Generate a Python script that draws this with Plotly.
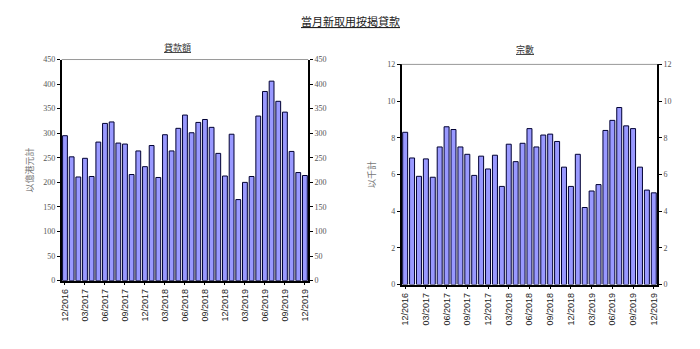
import plotly.graph_objects as go

months = ["12/2016","01/2017","02/2017","03/2017","04/2017","05/2017","06/2017","07/2017","08/2017","09/2017",
          "10/2017","11/2017","12/2017","01/2018","02/2018","03/2018","04/2018","05/2018","06/2018","07/2018",
          "08/2018","09/2018","10/2018","11/2018","12/2018","01/2019","02/2019","03/2019","04/2019","05/2019",
          "06/2019","07/2019","08/2019","09/2019","10/2019","11/2019","12/2019"]
amount = [295,252,211,249,212,282,320,323,280,278,216,264,232,275,210,297,264,310,337,301,
          322,328,312,259,213,298,165,200,212,335,385,406,365,343,263,220,214]
count = [8.3,6.9,5.9,6.85,5.85,7.5,8.6,8.45,7.5,7.1,5.95,7.0,6.3,7.05,5.35,7.65,6.7,7.7,8.5,7.5,
         8.15,8.2,7.8,6.4,5.35,7.1,4.2,5.1,5.45,8.4,8.95,9.65,8.65,8.5,6.4,5.15,5.0]
tick_labels = months[::3]

main_title = "當月新取用按揭貸款"
left_title = "貸款額"
right_title = "宗數"
left_ytitle = "以億港元計"
right_ytitle = "以千計"

fill = "#9999FF"
edge = "#000033"
cjk = "Noto Sans CJK TC"

fig = go.Figure()
fig.add_trace(go.Bar(x=months, y=amount, xaxis="x", yaxis="y", marker=dict(color=fill, line=dict(color=edge, width=1)), hoverinfo="x+y"))
fig.add_trace(go.Scatter(x=months, y=amount, xaxis="x", yaxis="y2", mode="markers", marker=dict(opacity=0), hoverinfo="skip", showlegend=False))
fig.add_trace(go.Bar(x=months, y=count, xaxis="x2", yaxis="y3", marker=dict(color=fill, line=dict(color=edge, width=1)), hoverinfo="x+y"))
fig.add_trace(go.Scatter(x=months, y=count, xaxis="x2", yaxis="y4", mode="markers", marker=dict(opacity=0), hoverinfo="skip", showlegend=False))

n = len(months)
xcommon = dict(type="category", tickmode="array", tickvals=tick_labels, ticktext=tick_labels,
               range=[-0.5, n - 0.5],
               tickangle=-90, tickfont=dict(family="Liberation Sans", size=9, color="#222222"),
               showline=True, linecolor="black", linewidth=1.5, ticks="outside", ticklen=3, tickcolor="black",
               showgrid=False, zeroline=False)
ycommon = dict(showgrid=False, zeroline=False, showline=True, linecolor="black", linewidth=1.5,
               ticks="outside", ticklen=3, tickcolor="black",
               tickfont=dict(family="Liberation Serif", size=8, color="#555555"))

ld = [60/700, 308/700]
ly = [1-284/349, 1-57/349]
rd = [402/700, 659/700]
ry = [1-288/349, 1-62/349]

fig.update_layout(
    width=700, height=349, margin=dict(l=0, r=0, t=0, b=0),
    paper_bgcolor="white", plot_bgcolor="white", showlegend=False, bargap=0.28,
    xaxis=dict(domain=ld, anchor="y", **xcommon),
    xaxis2=dict(domain=rd, anchor="y3", **xcommon),
    yaxis=dict(domain=ly, anchor="x", range=[0, 450], dtick=50, side="left",
               title=dict(text=left_ytitle, font=dict(family=cjk, size=9, color="#777777"), standoff=8), **ycommon),
    yaxis2=dict(domain=ly, anchor="x", overlaying="y", side="right", range=[0, 450], dtick=50, **ycommon),
    yaxis3=dict(domain=ry, anchor="x2", range=[0, 12], dtick=2, side="left",
                title=dict(text=right_ytitle, font=dict(family=cjk, size=9, color="#777777"), standoff=10), **ycommon),
    yaxis4=dict(domain=ry, anchor="x2", overlaying="y3", side="right", range=[0, 12], dtick=2, **ycommon),
    shapes=[
        dict(type="line", xref="x domain", yref="y domain", x0=0, x1=1, y0=1, y1=1, line=dict(color="#999999", width=1)),
        dict(type="line", xref="x2 domain", yref="y3 domain", x0=0, x1=1, y0=1, y1=1, line=dict(color="#999999", width=1)),
    ],
    annotations=[
        dict(text="<u>" + main_title + "</u>", x=350/700, y=1-17/349, xref="paper", yref="paper",
             xanchor="center", yanchor="middle",
             showarrow=False, font=dict(family=cjk, size=11, color="#222222")),
        dict(text="<u>" + left_title + "</u>", x=177/700, y=1-45/349, xref="paper", yref="paper",
             xanchor="center", yanchor="middle",
             showarrow=False, font=dict(family=cjk, size=9, color="#333333")),
        dict(text="<u>" + right_title + "</u>", x=526/700, y=1-47/349, xref="paper", yref="paper",
             xanchor="center", yanchor="middle",
             showarrow=False, font=dict(family=cjk, size=9, color="#333333")),
    ],
)

fig.write_html("out.html")
